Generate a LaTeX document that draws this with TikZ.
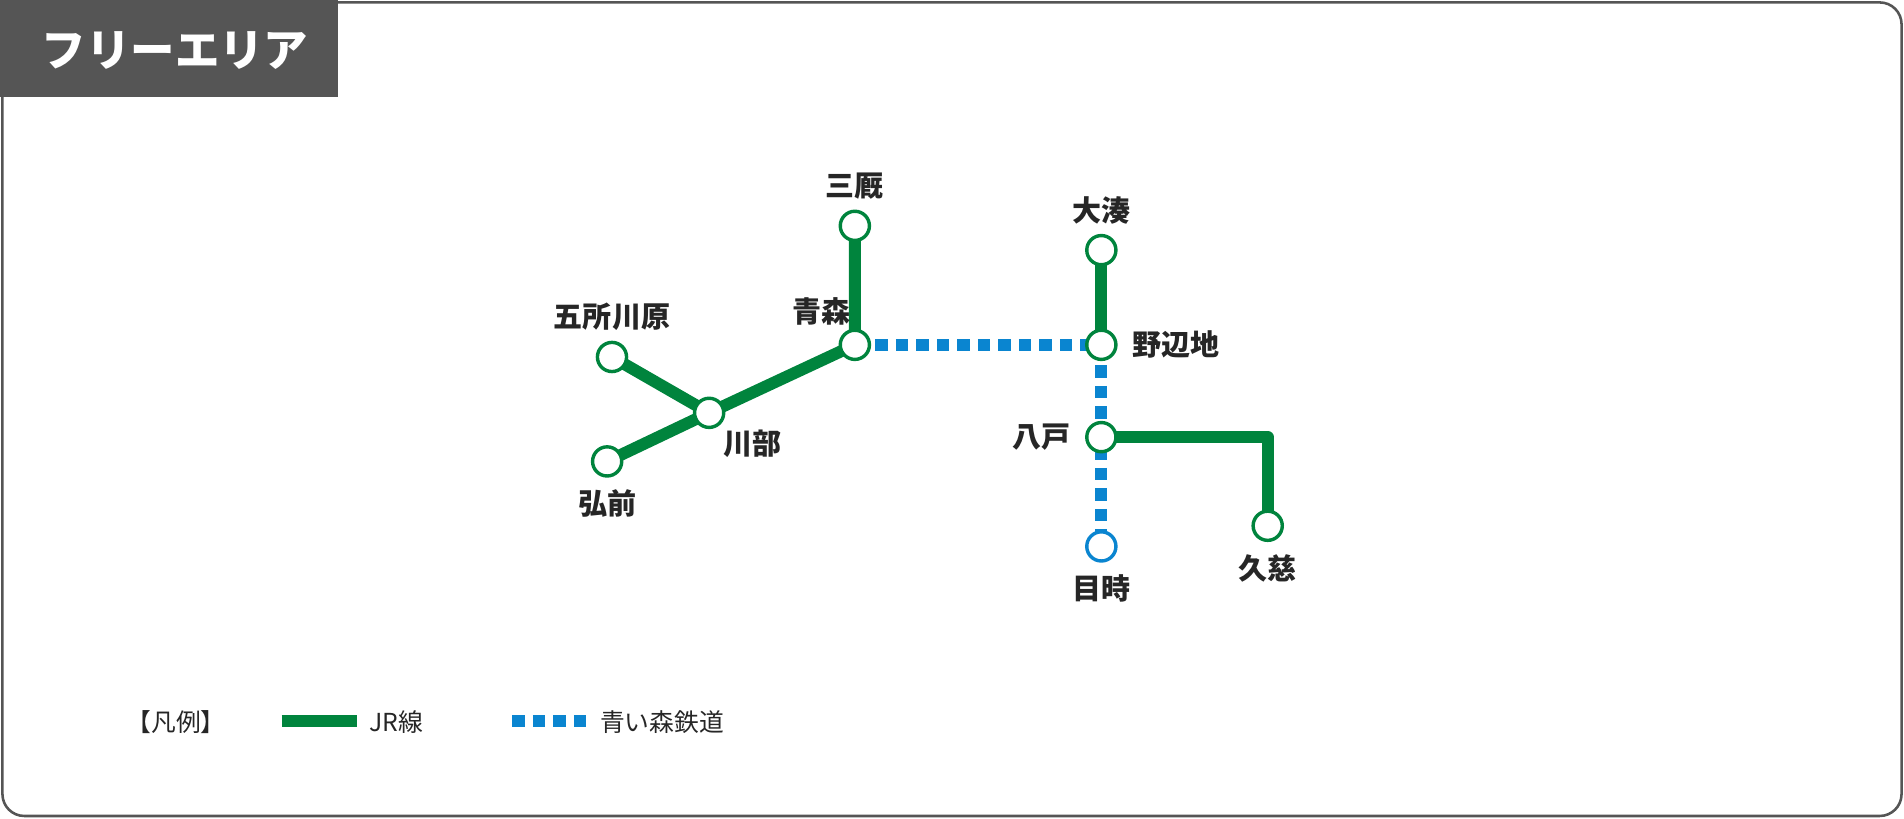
\documentclass[tikz,border=0pt]{standalone}
\usepackage{fontspec}
\setmainfont{Noto Sans CJK JP}
\usetikzlibrary{positioning}
\definecolor{jrgreen}{HTML}{00843D}
\definecolor{aoiblue}{HTML}{0A85D0}
\definecolor{boxgray}{HTML}{555555}
\begin{document}
\begin{tikzpicture}[x=0.01cm, y=-0.01cm,
    sta/.style={draw=jrgreen, fill=white, circle, line width=0.8pt, minimum size=0.24cm, inner sep=0pt},
    staB/.style={sta, draw=aoiblue},
    jr/.style={jrgreen, line width=2.8pt},
    aoi/.style={aoiblue, line width=2.8pt, dash pattern=on 2.9pt off 1.9pt},
    lbl/.style={font=\fontsize{6.8}{7}\selectfont\bfseries, text=black!85, inner sep=1pt},
    leglbl/.style={lbl, font=\fontsize{5.8}{6}\selectfont}]

    % frame and title
    \useasboundingbox (0,0) rectangle (1568,674);
    \draw[boxgray, line width=0.6pt, rounded corners=0.18cm] (2,2) rectangle (1566,672);
    \fill[boxgray] (0,0) rectangle (278,80);
    \node[text=white, font=\fontsize{10.4}{11}\selectfont\bfseries, anchor=west] (title) at (22,42) {フリーエリア};

    % stations
    \coordinate (mmy) at (704,186);
    \coordinate (aom) at (704,284);
    \coordinate (kwb) at (584,340);
    \coordinate (gsy) at (504,294);
    \coordinate (hrs) at (500,380);
    \coordinate (omn) at (907,206);
    \coordinate (nhj) at (907,284);
    \coordinate (hch) at (907,360);
    \coordinate (mtk) at (907,450);
    \coordinate (kuj) at (1044,433);
    \coordinate (bend) at (1044,360);

    % lines
    \draw[aoi] (aom) -- (nhj);
    \draw[aoi] (nhj) -- (mtk);
    \draw[jr] (mmy) -- (aom) -- (kwb) -- (hrs);
    \draw[jr] (gsy) -- (kwb);
    \draw[jr] (omn) -- (nhj);
    \draw[jr, line join=round] (hch) -- (bend) -- (kuj);

    \foreach \s in {mmy,aom,kwb,gsy,hrs,omn,nhj,hch,kuj}
        \node[sta] (n\s) at (\s) {};
    \node[staB] (nmtk) at (mtk) {};

    % labels
    \node[lbl, above=0.04cm of nmmy] {三厩};
    \node[lbl, above left=0.02cm and -0.1cm of naom] {青森};
    \node[lbl, below right=0.0cm and -0.02cm of nkwb] {川部};
    \node[lbl, above=0.04cm of ngsy] {五所川原};
    \node[lbl, below=0.06cm of nhrs] {弘前};
    \node[lbl, above=0.04cm of nomn] {大湊};
    \node[lbl, right=0.08cm of nnhj] {野辺地};
    \node[lbl, left=0.08cm of nhch] {八戸};
    \node[lbl, below=0.06cm of nmtk] {目時};
    \node[lbl, below=0.06cm of nkuj] {久慈};

    % legend
    \node[leglbl] (leg) at (145,595) {【凡例】};
    \coordinate (g1) at (232,594); \coordinate (g2) at (294,594);
    \draw[jr] (g1) -- (g2);
    \node[leglbl, anchor=west] (jrt) at (300,595) {JR線};
    \coordinate (b1) at (422,594); \coordinate (b2) at (485,594);
    \draw[aoi] (b1) -- (b2);
    \node[leglbl, anchor=west] (aot) at (490,595) {青い森鉄道};
\end{tikzpicture}
\end{document}
